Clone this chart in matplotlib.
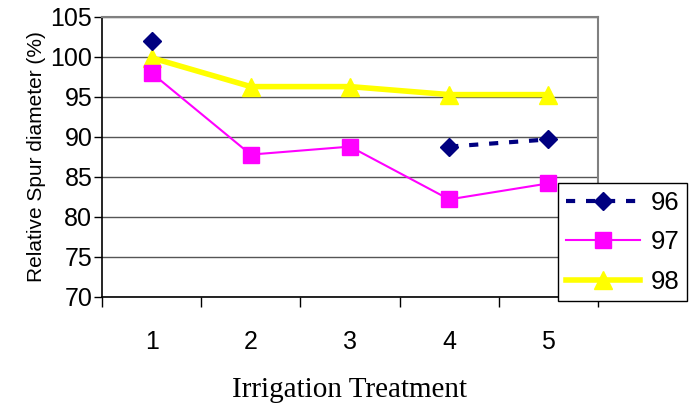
import matplotlib.pyplot as plt
import numpy as np

treatments = [1, 2, 3, 4, 5]
y96 = [102.0, np.nan, np.nan, 88.8, 89.7]
y97 = [98.0, 87.8, 88.8, 82.2, 84.2]
y98 = [99.9, 96.3, 96.3, 95.3, 95.3]

plt.rcParams['font.family'] = ['Liberation Sans', 'DejaVu Sans']

fig = plt.figure(figsize=(6.89, 4.04), dpi=100)
ax = fig.add_axes([102 / 689, 1 - 297 / 404, 496 / 689, 280 / 404])

ax.plot(treatments, y96, color='#000080', ls=(0, (2.2, 2.6)), lw=3,
        marker='D', ms=9, label='96')
ax.plot(treatments, y97, color='#ff00ff', lw=1.5,
        marker='s', ms=11, label='97')
ax.plot(treatments, y98, color='#ffff00', lw=4,
        marker='^', ms=13, label='98', zorder=1.9)

ax.set_xlim(0.5, 5.5)
ax.set_ylim(70, 105)
ax.set_yticks(np.arange(70, 106, 5))
ax.set_xticks(treatments)
ax.set_xticks(np.arange(0.5, 5.6, 1), minor=True)
ax.tick_params(axis='x', which='major', length=0, pad=24, labelsize=18)
ax.tick_params(axis='x', which='minor', length=7, width=1, direction='out')
ax.tick_params(axis='y', length=6, width=1, pad=1, labelsize=18)

ax.grid(axis='y', color='#555555', lw=1)
ax.set_axisbelow(True)
for s in ['top', 'right']:
    ax.spines[s].set_color('#808080')
    ax.spines[s].set_linewidth(1.5)
ax.spines['left'].set_linewidth(1.2)
ax.spines['bottom'].set_linewidth(1.2)

ax.set_ylabel('Relative Spur diameter (%)', fontsize=15, labelpad=3)
ax.set_xlabel('Irrigation Treatment', family='Liberation Serif',
              fontsize=21, labelpad=16)

leg = fig.legend(loc='upper left', bbox_to_anchor=(558 / 689, 1 - 183 / 404),
                 fontsize=18.5, fancybox=False, edgecolor='black', framealpha=1,
                 handlelength=2.9, borderpad=0.3, labelspacing=0.6,
                 handletextpad=0.4, borderaxespad=0)
leg.get_frame().set_linewidth(1)

fig.savefig('out.png', dpi=100)
